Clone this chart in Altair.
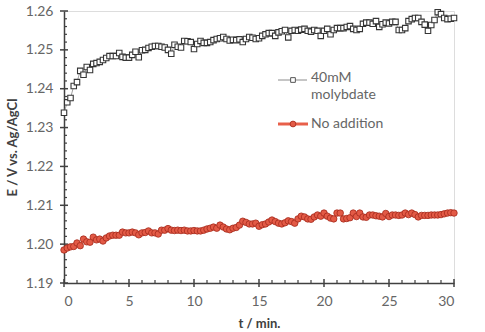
import altair as alt
import pandas as pd

# Potential readings, one every SAMPLE_STEP minutes from t = 0 to 30 min
SAMPLE_STEP = 0.25

molybdate_40mm = [
    1.2338, 1.2365, 1.2376, 1.2407, 1.2417, 1.2446, 1.2436, 1.2456, 1.2448, 1.2464,
    1.2466, 1.2469, 1.2474, 1.2479, 1.2484, 1.2484, 1.2484, 1.2492, 1.2482, 1.2480,
    1.2480, 1.2487, 1.2495, 1.2481, 1.2499, 1.2500, 1.2505, 1.2508, 1.2510, 1.2510,
    1.2508, 1.2506, 1.2500, 1.2490, 1.2513, 1.2508, 1.2506, 1.2523, 1.2522, 1.2520,
    1.2502, 1.2515, 1.2523, 1.2518, 1.2518, 1.2520, 1.2525, 1.2528, 1.2530, 1.2533,
    1.2528, 1.2524, 1.2526, 1.2525, 1.2527, 1.2520, 1.2528, 1.2533, 1.2531, 1.2528,
    1.2530, 1.2536, 1.2540, 1.2543, 1.2543, 1.2536, 1.2545, 1.2548, 1.2551, 1.2532,
    1.2549, 1.2551, 1.2549, 1.2552, 1.2554, 1.2549, 1.2547, 1.2551, 1.2549, 1.2536,
    1.2549, 1.2554, 1.2540, 1.2551, 1.2556, 1.2556, 1.2556, 1.2559, 1.2561, 1.2554,
    1.2551, 1.2554, 1.2567, 1.2570, 1.2570, 1.2567, 1.2574, 1.2559, 1.2566, 1.2570,
    1.2568, 1.2572, 1.2572, 1.2551, 1.2551, 1.2556, 1.2574, 1.2579, 1.2582, 1.2582,
    1.2572, 1.2565, 1.2549, 1.2564, 1.2577, 1.2597, 1.2592, 1.2582, 1.2579, 1.2580,
    1.2582,
]

no_addition = [
    1.1985, 1.1990, 1.1993, 1.1994, 1.2003, 1.1996, 1.2013, 1.2006, 1.2005, 1.2018,
    1.2011, 1.2013, 1.2008, 1.2016, 1.2021, 1.2023, 1.2023, 1.2023, 1.2031, 1.2029,
    1.2029, 1.2031, 1.2029, 1.2024, 1.2029, 1.2030, 1.2034, 1.2029, 1.2029, 1.2026,
    1.2036, 1.2036, 1.2040, 1.2036, 1.2035, 1.2036, 1.2035, 1.2036, 1.2034, 1.2034,
    1.2035, 1.2034, 1.2034, 1.2036, 1.2039, 1.2041, 1.2044, 1.2041, 1.2049, 1.2044,
    1.2039, 1.2037, 1.2041, 1.2043, 1.2049, 1.2059, 1.2056, 1.2052, 1.2052, 1.2054,
    1.2046, 1.2050, 1.2052, 1.2057, 1.2062, 1.2058, 1.2054, 1.2052, 1.2055, 1.2060,
    1.2058, 1.2054, 1.2065, 1.2072, 1.2070, 1.2065, 1.2064, 1.2070, 1.2075, 1.2072,
    1.2080, 1.2072, 1.2067, 1.2065, 1.2080, 1.2080, 1.2065, 1.2066, 1.2068, 1.2080,
    1.2071, 1.2080, 1.2070, 1.2069, 1.2075, 1.2075, 1.2073, 1.2072, 1.2070, 1.2079,
    1.2071, 1.2075, 1.2075, 1.2074, 1.2075, 1.2080, 1.2076, 1.2080, 1.2076, 1.2070,
    1.2074, 1.2074, 1.2074, 1.2075, 1.2075, 1.2075, 1.2076, 1.2078, 1.2080, 1.2081,
    1.2080,
]

legend_labels = ["40mM\nmolybdate", "No addition"]

x_major = [0, 5, 10, 15, 20, 25, 30]
x_minor = [m for m in range(0, 31) if m % 5 != 0]
y_major = [1.19, 1.20, 1.21, 1.22, 1.23, 1.24, 1.25, 1.26]
y_minor = [round(1.19 + 0.002 * k, 3) for k in range(36) if k % 5 != 0]

W, H = 390, 272
FONT = "Lato"
AXIS_COLOR = "#404040"
LABEL_COLOR = "#666666"

moly_df = pd.DataFrame({"t": [i * SAMPLE_STEP for i in range(len(molybdate_40mm))],
                        "E": molybdate_40mm})
none_df = pd.DataFrame({"t": [i * SAMPLE_STEP for i in range(len(no_addition))],
                        "E": no_addition})

x_scale = alt.Scale(domain=[0, 30], nice=False)
y_scale = alt.Scale(domain=[1.19, 1.26], nice=False, zero=False)

x_axis = alt.Axis(
    values=x_major, ticks=False, grid=False, labelOverlap=False,
    domainColor=AXIS_COLOR, domainWidth=1.5,
    labelFont=FONT, labelFontSize=14, labelColor=LABEL_COLOR, labelPadding=11,
    title="t / min.", titleFont=FONT, titleFontSize=13, titleFontWeight="bold",
    titleColor=AXIS_COLOR, titlePadding=9,
)
y_axis = alt.Axis(
    values=y_major, format=".2f", ticks=False, grid=False, labelOverlap=False,
    domainColor=AXIS_COLOR, domainWidth=1.5,
    labelFont=FONT, labelFontSize=14, labelColor=LABEL_COLOR, labelPadding=11,
    title="E / V vs. Ag/AgCl", titleFont=FONT, titleFontSize=13, titleFontWeight="bold",
    titleColor=AXIS_COLOR, titlePadding=6,
)

# Every layer shares the same scales and axis definitions
X = lambda f: alt.X(f, scale=x_scale, axis=x_axis)
Y = lambda f: alt.Y(f, scale=y_scale, axis=y_axis)

# Molybdate series: thin grey connector with open squares
moly_line = alt.Chart(moly_df).mark_line(color="#a0a0a0", strokeWidth=1).encode(
    x=X("t:Q"), y=Y("E:Q"))
moly_pts = alt.Chart(moly_df).mark_point(
    shape="square", filled=True, fill="white", stroke="#353535", strokeWidth=1.1, size=30, opacity=1
).encode(x=X("t:Q"), y=Y("E:Q"))

# Reference series without additive: red filled circles
none_line = alt.Chart(none_df).mark_line(color="#e8604a", strokeWidth=1.5).encode(
    x=X("t:Q"), y=Y("E:Q"))
none_pts = alt.Chart(none_df).mark_point(
    shape="circle", filled=True, fill="#e35a46", stroke="#a52a1c", strokeWidth=0.8, size=42, opacity=1
).encode(x=X("t:Q"), y=Y("E:Q"))

# Tick marks: major ticks cross the axis, minor ticks point inward
ymaj = alt.Chart(pd.DataFrame({"E": y_major})).mark_rule(color=AXIS_COLOR, strokeWidth=1.5).encode(
    y=Y("E:Q"), x=alt.value(-4), x2=alt.value(4))
ymin = alt.Chart(pd.DataFrame({"E": y_minor})).mark_rule(color=AXIS_COLOR, strokeWidth=1.2).encode(
    y=Y("E:Q"), x=alt.value(0), x2=alt.value(3))
xmaj = alt.Chart(pd.DataFrame({"t": x_major})).mark_rule(color=AXIS_COLOR, strokeWidth=1.5).encode(
    x=X("t:Q"), y=alt.value(H - 4), y2=alt.value(H + 4))
xmin = alt.Chart(pd.DataFrame({"t": x_minor})).mark_rule(color=AXIS_COLOR, strokeWidth=1.2).encode(
    x=X("t:Q"), y=alt.value(H - 3), y2=alt.value(H))

# Legend drawn inside the plot area
leg_df = pd.DataFrame({"label": legend_labels})
leg1_line = alt.Chart(leg_df.iloc[[0]]).mark_rule(color="#8c8c8c", strokeWidth=1).encode(
    x=alt.value(214), x2=alt.value(243), y=alt.value(69))
leg1_pt = alt.Chart(leg_df.iloc[[0]]).mark_point(
    shape="square", filled=True, fill="white", stroke="#555555", strokeWidth=1, size=22, opacity=1
).encode(x=alt.value(229), y=alt.value(69))
leg1_txt = alt.Chart(leg_df.iloc[[0]]).mark_text(
    align="left", baseline="top", lineBreak="\n", lineHeight=17,
    font=FONT, fontSize=14, color=LABEL_COLOR
).encode(x=alt.value(247), y=alt.value(60), text="label:N")
leg2_line = alt.Chart(leg_df.iloc[[1]]).mark_rule(color="#e8604a", strokeWidth=3).encode(
    x=alt.value(214), x2=alt.value(244), y=alt.value(113))
leg2_pt = alt.Chart(leg_df.iloc[[1]]).mark_point(
    shape="circle", filled=True, fill="#e35a46", stroke="#a52a1c", strokeWidth=0.8, size=34, opacity=1
).encode(x=alt.value(229), y=alt.value(113))
leg2_txt = alt.Chart(leg_df.iloc[[1]]).mark_text(
    align="left", baseline="middle", font=FONT, fontSize=14, color=LABEL_COLOR
).encode(x=alt.value(247), y=alt.value(113), text="label:N")

chart = alt.layer(
    moly_line, none_line, ymaj, ymin, xmaj, xmin, moly_pts, none_pts,
    leg1_line, leg1_pt, leg1_txt, leg2_line, leg2_pt, leg2_txt,
).properties(
    width=W, height=H,
    autosize=alt.AutoSizeParams(type="none"),
    padding={"left": 64, "top": 11, "right": 31, "bottom": 49},
).configure_view(stroke=None).configure_axis(labelOverlap=False).configure(background="white")

chart.save("out.html", embed_options={"renderer": "svg", "actions": False})
